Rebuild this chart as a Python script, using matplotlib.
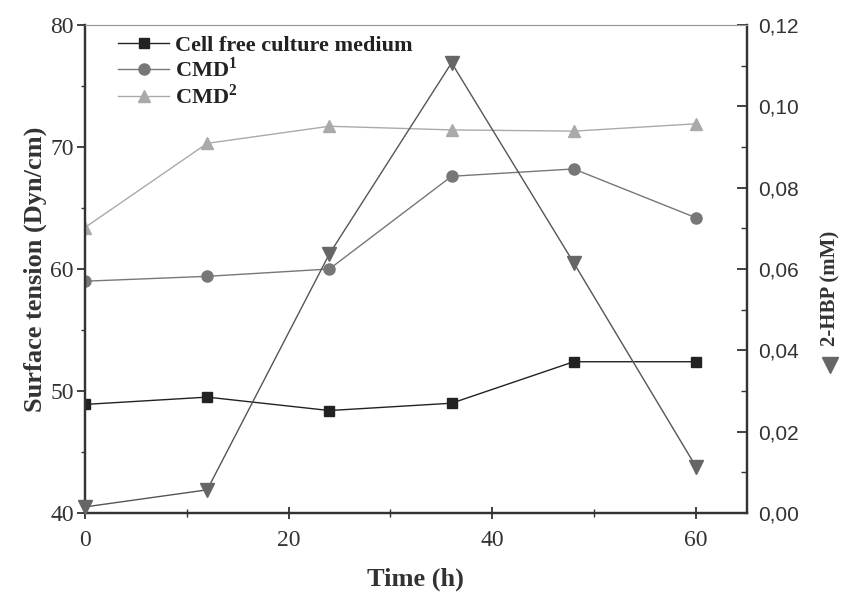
import numpy as np
import matplotlib.pyplot as plt
from matplotlib.lines import Line2D

# data
time = [0, 12, 24, 36, 48, 60]
cell_free = [48.9, 49.5, 48.4, 49.0, 52.4, 52.4]
cmd1 = [59.0, 59.4, 60.0, 67.6, 68.2, 64.2]
cmd2 = [63.4, 70.3, 71.7, 71.4, 71.3, 71.9]
hbp = [0.0015, 0.0057, 0.0637, 0.1107, 0.0615, 0.0114]

serif = ['Liberation Serif', 'DejaVu Serif']
sans = ['Liberation Sans', 'DejaVu Sans']

fig = plt.figure(figsize=(8.43, 5.92), dpi=100)
ax = fig.add_axes([0.1008, 0.1334, 0.7852, 0.8244])
ax2 = ax.twinx()

ax.plot(time, cell_free, '-s', color='#222222', mfc='#222222', mec='#222222',
        ms=7, lw=1.0, label='Cell free culture medium')
ax.plot(time, cmd1, '-o', color='#777777', mfc='#777777', mec='#777777',
        ms=8, lw=1.0, label='CMD$^\\mathregular{1}$')
ax.plot(time, cmd2, '-^', color='#aaaaaa', mfc='#aaaaaa', mec='#aaaaaa',
        ms=8, lw=1.0, label='CMD$^\\mathregular{2}$')
ax2.plot(time, hbp, '-v', color='#555555', mfc='#666666', mec='#666666',
         ms=10, lw=1.0, clip_on=False, zorder=5)

ax.set_xlim(0, 65)
ax.set_ylim(40, 80)
ax2.set_ylim(0, 0.12)

ax.set_xticks([0, 20, 40, 60])
ax.set_xticks([10, 30, 50], minor=True)
ax.set_yticks([40, 50, 60, 70, 80])
ax.set_yticks([45, 55, 65, 75], minor=True)
ax2.set_yticks([0, 0.02, 0.04, 0.06, 0.08, 0.10, 0.12])
ax2.set_yticks([0.01, 0.03, 0.05, 0.07, 0.09, 0.11], minor=True)
ax2.set_yticklabels(['0,00', '0,02', '0,04', '0,06', '0,08', '0,10', '0,12'],
                    family=sans, fontsize=15, color='#333333')
ax.set_xticklabels(['0', '20', '40', '60'], family=serif, fontsize=17, color='#333333')
ax.set_yticklabels(['40', '50', '60', '70', '80'], family=serif, fontsize=17, color='#333333')

ax.tick_params(axis='x', which='major', direction='inout', length=9, width=1.3, colors='#333333', pad=8)
ax.tick_params(axis='x', which='minor', direction='inout', length=6, width=1.0, colors='#333333')
ax.tick_params(axis='y', which='major', direction='out', length=6, width=1.3, colors='#333333', pad=2)
ax.tick_params(axis='y', which='minor', direction='out', length=3, width=1.0, colors='#333333')
ax2.tick_params(axis='y', which='major', direction='in', length=7, width=1.3, colors='#333333', pad=8)
ax2.tick_params(axis='y', which='minor', direction='in', length=4, width=1.0, colors='#333333')

for a in (ax, ax2):
    for s in ('left', 'bottom', 'right'):
        a.spines[s].set_linewidth(1.6)
        a.spines[s].set_color('#333333')
    a.spines['top'].set_linewidth(0.8)
    a.spines['top'].set_color('#999999')

ax.set_xlabel('Time (h)', family=serif, fontweight='bold', fontsize=19, color='#333333', labelpad=12)
ax.set_ylabel('Surface tension (Dyn/cm)', family=serif, fontweight='bold', fontsize=19,
              color='#333333', labelpad=2)

# right-side label with its marker
fig.text(0.985, 0.513, '2-HBP (mM)', rotation=90, ha='center', va='center',
         family=serif, fontweight='bold', fontsize=15, color='#333333')
fig.add_artist(Line2D([0.985], [1 - 365 / 592], marker='v', ms=11, color='#666666',
                      transform=fig.transFigure))

leg = ax.legend(loc='upper left', bbox_to_anchor=(118 / 843, 1 - 35 / 592),
                bbox_transform=fig.transFigure, frameon=False, borderpad=0, borderaxespad=0,
                prop={'family': serif, 'weight': 'bold', 'size': 16},
                handlelength=2.3, labelspacing=0.08, handletextpad=0.25)
for t in leg.get_texts():
    t.set_color('#222222')

fig.savefig('out.png', dpi=100)
